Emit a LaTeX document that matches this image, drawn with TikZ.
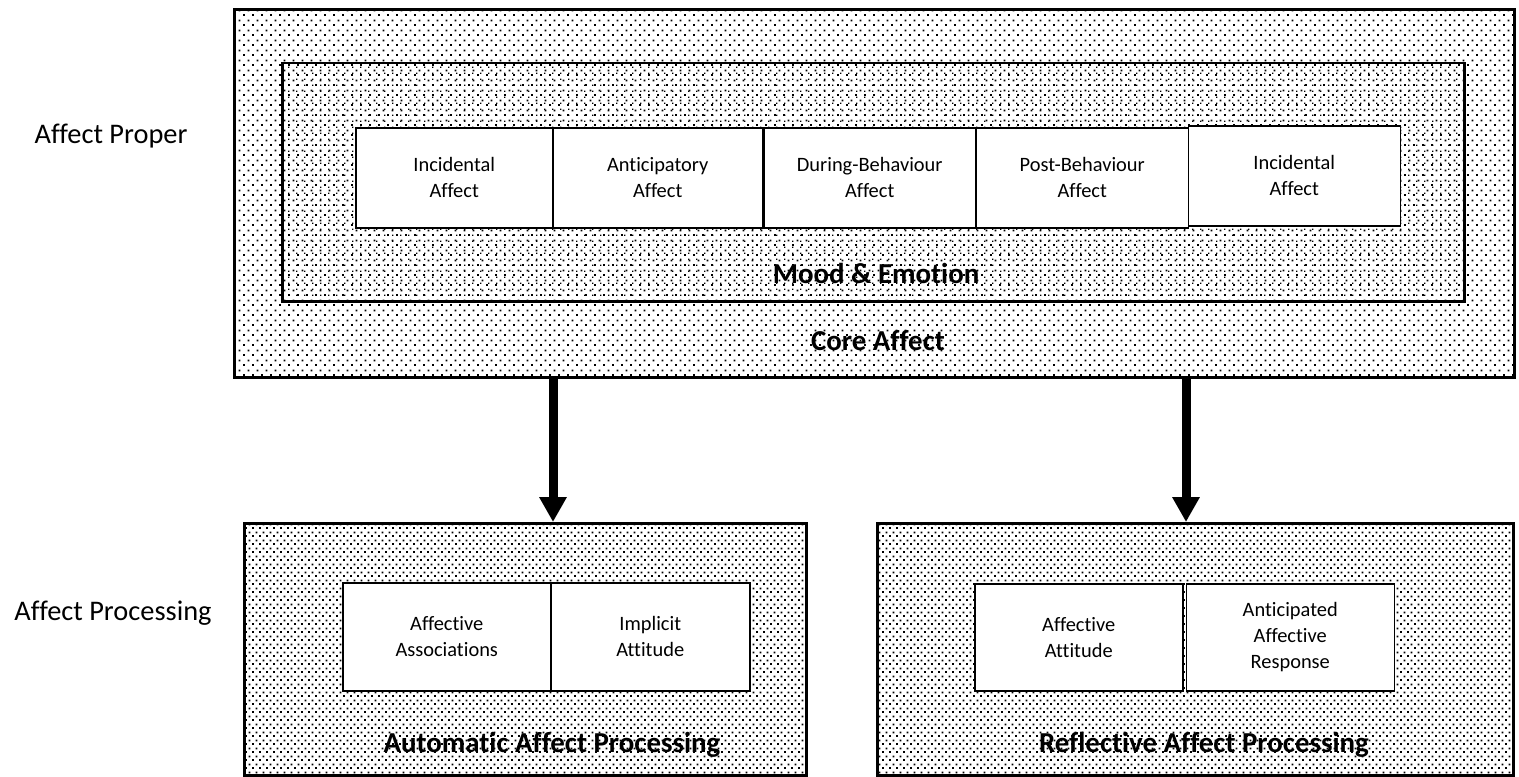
\documentclass[tikz,border=0pt]{standalone}
\usepackage{fontspec}
\setmainfont[Ligatures=NoCommon]{Carlito}
\usetikzlibrary{arrows.meta,positioning,patterns.meta}

% dot fills of the frames
\tikzdeclarepattern{name=coredots, type=uncolored,
  bounding box={(0bp,0bp) and (9bp,10bp)}, tile size={(9bp,10bp)},
  code={\fill (0bp,0bp) rectangle (2bp,2bp);
        \fill (5bp,5bp) rectangle (7bp,7bp);}}
\tikzdeclarepattern{name=mooddots, type=uncolored,
  bounding box={(0bp,0bp) and (8bp,6bp)}, tile size={(8bp,6bp)},
  code={\fill (0bp,0bp) rectangle (1.5bp,1.5bp);}}
\tikzdeclarepattern{name=procdots, type=uncolored,
  bounding box={(0bp,0bp) and (7bp,8bp)}, tile size={(7bp,8bp)},
  code={\fill (0bp,0bp) rectangle (2bp,2bp);
        \fill (4bp,4bp) rectangle (6bp,6bp);}}

\tikzset{
  frame/.style={draw, line width=3bp, anchor=north west, inner sep=0pt, pattern color=black},
  itembox/.style={draw, line width=1.5bp, fill=white, anchor=north west, inner sep=0pt,
    align=center, font=\fontsize{20.5}{26}\selectfont},
  levellabel/.style={anchor=base, font=\fontsize{28.5}{34}\selectfont},
  framelabel/.style={anchor=base, font=\fontsize{29}{34}\selectfont\bfseries},
  bigarrow/.style={line width=9bp, -{Triangle[length=25bp,width=26bp]}}
}

\begin{document}
\begin{tikzpicture}[x=1bp,y=-1bp]
\useasboundingbox (0,0) rectangle (1519,776);

% affect proper
\node[frame, pattern=coredots, minimum width=1280bp, minimum height=368bp] (core) at (233,8) {};
\node[frame, line width=2.5bp, pattern=mooddots, minimum width=1182bp, minimum height=238bp] (mood) at (281,62) {};
\node[itembox, minimum width=197bp, minimum height=100bp] (inc1) at (355,127) {Incidental\\Affect};
\node[itembox, minimum width=210bp, minimum height=100bp, right=-1.5bp of inc1] (antic) {Anticipatory\\Affect};
\node[itembox, minimum width=211bp, minimum height=100bp, right=0bp of antic] (during) {During-Behaviour\\Affect};
\node[itembox, minimum width=212bp, minimum height=100bp, right=-0.5bp of during] (post) {Post-Behaviour\\Affect};
\node[itembox, minimum width=212bp, minimum height=100bp, right=-1.5bp of post, yshift=2bp] (inc2) {Incidental\\Affect};
\node[framelabel] (moodlbl) at (876,283) {Mood \& Emotion};
\node[framelabel] (corelbl) at (878,350) {Core Affect};

% affect processing
\node[frame, pattern=procdots, minimum width=562bp, minimum height=252bp] (auto) at (243,522) {};
\node[frame, pattern=procdots, minimum width=636bp, minimum height=252bp] (refl) at (876,522) {};
\node[itembox, minimum width=208bp, minimum height=108bp] (assoc) at (342,582) {Affective\\Associations};
\node[itembox, minimum width=199bp, minimum height=108bp, right=-1.5bp of assoc] (implicit) {Implicit\\Attitude};
\node[itembox, minimum width=208bp, minimum height=107bp] (affatt) at (974,583) {Affective\\Attitude};
\node[itembox, minimum width=208bp, minimum height=107bp, right=2bp of affatt] (antresp) {Anticipated\\Affective\\Response};
\node[framelabel] (autolbl) at (552,752) {Automatic Affect Processing};
\node[framelabel] (refllbl) at (1204,752) {Reflective Affect Processing};

% levels
\node[levellabel] (proper) at (111,143) {Affect Proper};
\node[levellabel] (processing) at (113,620) {Affect Processing};

% arrows
\coordinate (lsrc) at (553,376);
\coordinate (rsrc) at (1186,376);
\draw[bigarrow] (lsrc) -- (lsrc |- auto.north);
\draw[bigarrow] (rsrc) -- (rsrc |- refl.north);
\end{tikzpicture}
\end{document}
